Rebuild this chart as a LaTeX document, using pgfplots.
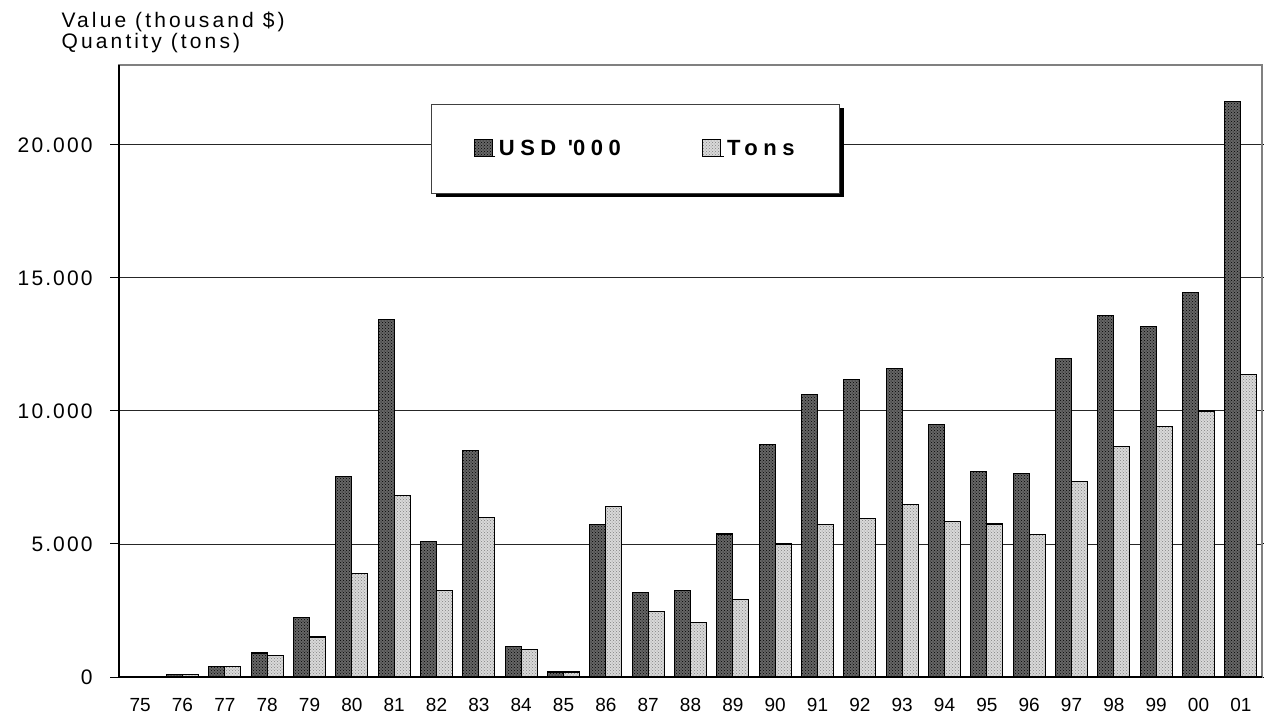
\documentclass[border=0pt]{standalone}
\usepackage{fontspec}
\setmainfont{Liberation Sans}
\usepackage{pgfplots}
\pgfplotsset{compat=1.18}
\usetikzlibrary{patterns,shadows}

\makeatletter
\tikzset{no preactions/.code={\let\tikz@preactions\pgfutil@empty}}
\makeatother

\definecolor{usdfill}{gray}{0.40}
\definecolor{tonfill}{gray}{0.85}

\pgfplotstableread{
x usd tons
1 100 100
2 410 410
3 900 815
4 2250 1500
5 7525 3888
6 13424 6813
7 5100 3262
8 8526 6000
9 1140 1027
10 190 190
11 5737 6400
12 3164 2452
13 3262 2040
14 5377 2902
15 8751 5000
16 10626 5726
17 11189 5951
18 11609 6487
19 9486 5834
20 7735 5748
21 7649 5347
22 11961 7334
23 13573 8673
24 13172 9411
25 14436 10000
26 21620 11373
}\datatable

\begin{document}
\begin{tikzpicture}
\begin{axis}[
  name=ax,
  scale only axis, width=1143pt, height=612pt,
  xmin=-0.5, xmax=26.5, ymin=0, ymax=23000,
  ybar=0pt, bar width=16pt,
  xtick={0,...,26},
  xticklabels={75,76,77,78,79,80,81,82,83,84,85,86,87,88,89,90,91,92,93,94,95,96,97,98,99,00,01},
  x tick style={draw=none},
  ytick={0,5000,10000,15000,20000},
  scaled y ticks=false,
  ymajorgrids, grid style={black!85, line width=0.9pt},
  tick align=outside, major tick length=9pt,
  y tick style={black, line width=1pt},
  axis line style={draw=gray, line width=1.3pt},
  /pgf/number format/assume math mode=true,
  /pgf/number format/1000 sep={.},
  xticklabel style={font=\fontsize{19}{22}\selectfont, yshift=-9pt},
  yticklabel style={font=\fontsize{21}{24}\selectfont\addfontfeature{LetterSpace=10}, xshift=-14pt},
  clip=false,
  legend columns=2,
  legend style={at={(0.452,0.863)}, anchor=center, draw=black!75, line width=1pt, fill=white,
    inner xsep=42pt, inner ysep=33pt,
    drop shadow={shadow xshift=4pt, shadow yshift=-4pt, fill=black, opacity=1},
    font=\fontsize{22}{26}\selectfont\bfseries\addfontfeature{LetterSpace=25},
    nodes={inner sep=3pt},
    /tikz/every even column/.append style={column sep=78pt}},
  legend image code/.code={\draw[#1, no preactions] (0pt,-8pt) rectangle (18pt,9pt);
     \path[no preactions] (0pt,-8pt) -- (21pt,-8pt);},
]
\addplot[draw=black, line width=1.2pt, fill=usdfill, postaction={pattern=crosshatch dots, pattern color=black}] table[x=x, y=usd] {\datatable};
\addplot[draw=black, line width=1.2pt, fill=tonfill, postaction={pattern=crosshatch dots, pattern color=gray}] table[x=x, y=tons] {\datatable};
\legend{USD \textquotesingle000, Tons}
\draw[black, line width=1.3pt] (rel axis cs:0,1) -- (rel axis cs:0,0) -- (rel axis cs:1,0);
\end{axis}
\node[anchor=base west, font=\fontsize{21}{24}\selectfont\addfontfeature{LetterSpace=15}] at ([xshift=-61pt,yshift=37pt]ax.north west) {Value (thousand \$)};
\node[anchor=base west, font=\fontsize{21}{24}\selectfont\addfontfeature{LetterSpace=15}] at ([xshift=-61pt,yshift=16pt]ax.north west) {Quantity (tons)};
\pgfresetboundingbox
\path[use as bounding box] ([xshift=-119pt,yshift=-40pt]ax.south west) rectangle ([xshift=2pt,yshift=65pt]ax.north east);
\end{tikzpicture}
\end{document}
